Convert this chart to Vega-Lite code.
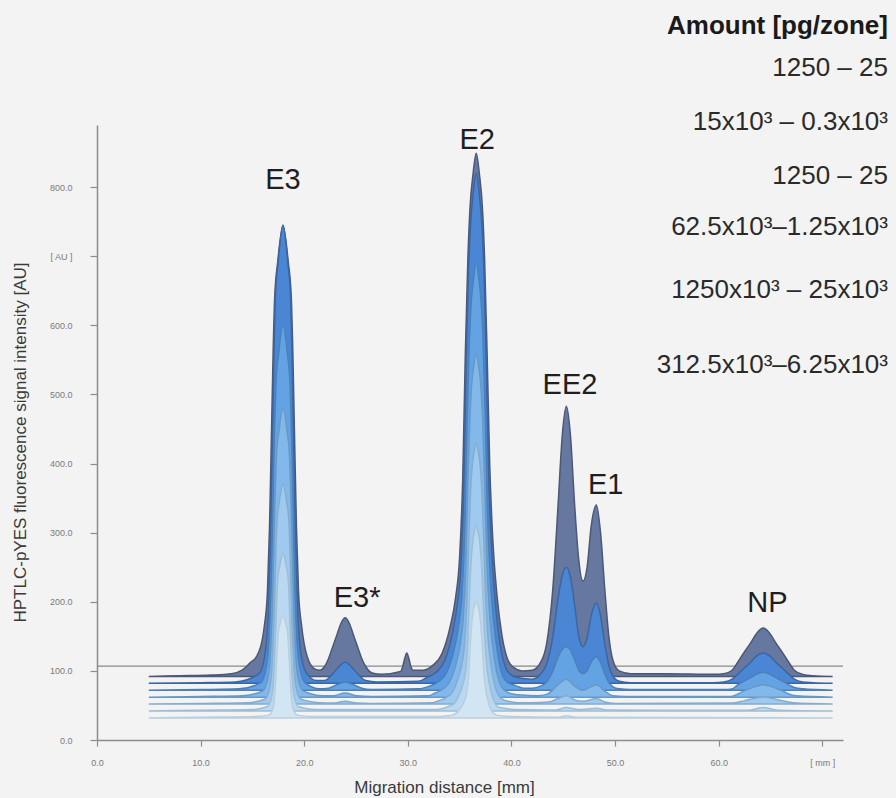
{
"$schema": "https://vega.github.io/schema/vega-lite/v6.json",
"width": 746, "height": 615,
"autosize": "none",
"padding": {"left": 97, "top": 125, "right": 53, "bottom": 58},
"background": "#f3f3f3",
"config": {"view": {"stroke": null}, "font": "Liberation Sans"},
"layer": [
{
"data": {"values": [{"y": 107}]},
"mark": {"type": "rule", "color": "#8a8a8a", "strokeWidth": 1.3},
"encoding": {"y": {"field": "y", "type": "quantitative", "scale": {"domain": [0, 890], "nice": false}}}
},
{
"data": {"values": [
{"s":"t1","x":5,"y":92},{"s":"t1","x":8,"y":93},{"s":"t1","x":11,"y":94},{"s":"t1","x":13,"y":96},{"s":"t1","x":14,"y":101},{"s":"t1","x":14.8,"y":112},{"s":"t1","x":15.45,"y":122},{"s":"t1","x":16.15,"y":165},{"s":"t1","x":16.45,"y":215},{"s":"t1","x":16.65,"y":308},{"s":"t1","x":16.85,"y":452},{"s":"t1","x":17,"y":562},{"s":"t1","x":17.15,"y":641},{"s":"t1","x":17.45,"y":693},{"s":"t1","x":17.95,"y":745},{"s":"t1","x":18.45,"y":693},{"s":"t1","x":18.75,"y":641},{"s":"t1","x":18.9,"y":562},{"s":"t1","x":19.05,"y":452},{"s":"t1","x":19.25,"y":308},{"s":"t1","x":19.45,"y":215},{"s":"t1","x":19.75,"y":165},{"s":"t1","x":20.3,"y":120},{"s":"t1","x":21,"y":103},{"s":"t1","x":21.5,"y":101},{"s":"t1","x":21.95,"y":106},{"s":"t1","x":22.35,"y":118},{"s":"t1","x":22.75,"y":135},{"s":"t1","x":23.15,"y":152},{"s":"t1","x":23.55,"y":169},{"s":"t1","x":23.95,"y":177},{"s":"t1","x":24.35,"y":169},{"s":"t1","x":24.75,"y":152},{"s":"t1","x":25.15,"y":135},{"s":"t1","x":25.55,"y":118},{"s":"t1","x":25.95,"y":106},{"s":"t1","x":26.55,"y":97},{"s":"t1","x":27.5,"y":95},{"s":"t1","x":29.3,"y":99},{"s":"t1","x":29.5,"y":106},{"s":"t1","x":29.7,"y":118},{"s":"t1","x":29.9,"y":126},{"s":"t1","x":30.1,"y":118},{"s":"t1","x":30.3,"y":106},{"s":"t1","x":30.5,"y":101},{"s":"t1","x":31.5,"y":101},{"s":"t1","x":32.4,"y":108},{"s":"t1","x":33.3,"y":125},{"s":"t1","x":34.1,"y":165},{"s":"t1","x":34.6,"y":205},{"s":"t1","x":35,"y":265},{"s":"t1","x":35.3,"y":380},{"s":"t1","x":35.55,"y":560},{"s":"t1","x":35.8,"y":700},{"s":"t1","x":36,"y":770},{"s":"t1","x":36.3,"y":820},{"s":"t1","x":36.6,"y":849},{"s":"t1","x":36.9,"y":820},{"s":"t1","x":37.2,"y":770},{"s":"t1","x":37.4,"y":700},{"s":"t1","x":37.65,"y":560},{"s":"t1","x":37.9,"y":400},{"s":"t1","x":38.2,"y":290},{"s":"t1","x":38.6,"y":210},{"s":"t1","x":39.1,"y":150},{"s":"t1","x":39.6,"y":118},{"s":"t1","x":40.2,"y":105},{"s":"t1","x":41,"y":100},{"s":"t1","x":42,"y":101},{"s":"t1","x":42.8,"y":112},{"s":"t1","x":43.4,"y":140},{"s":"t1","x":44,"y":220},{"s":"t1","x":44.5,"y":340},{"s":"t1","x":44.9,"y":440},{"s":"t1","x":45.3,"y":483},{"s":"t1","x":45.7,"y":440},{"s":"t1","x":46.1,"y":340},{"s":"t1","x":46.5,"y":260},{"s":"t1","x":46.9,"y":230},{"s":"t1","x":47.3,"y":250},{"s":"t1","x":47.7,"y":310},{"s":"t1","x":48.2,"y":340},{"s":"t1","x":48.6,"y":300},{"s":"t1","x":49,"y":220},{"s":"t1","x":49.4,"y":150},{"s":"t1","x":49.8,"y":115},{"s":"t1","x":50.4,"y":100},{"s":"t1","x":51.5,"y":96},{"s":"t1","x":55,"y":96},{"s":"t1","x":59.5,"y":95},{"s":"t1","x":60.5,"y":96},{"s":"t1","x":61.3,"y":101},{"s":"t1","x":61.9,"y":114},{"s":"t1","x":62.5,"y":128},{"s":"t1","x":63.1,"y":141},{"s":"t1","x":63.7,"y":155},{"s":"t1","x":64.3,"y":162},{"s":"t1","x":64.9,"y":155},{"s":"t1","x":65.5,"y":141},{"s":"t1","x":66.1,"y":128},{"s":"t1","x":66.7,"y":114},{"s":"t1","x":67.3,"y":101},{"s":"t1","x":68.1,"y":95},{"s":"t1","x":69.1,"y":93},{"s":"t1","x":71,"y":92},
{"s":"t2","x":5,"y":82},{"s":"t2","x":10,"y":83},{"s":"t2","x":13.35,"y":84},{"s":"t2","x":15.65,"y":96},{"s":"t2","x":16.2,"y":123},{"s":"t2","x":16.52,"y":182},{"s":"t2","x":16.75,"y":301},{"s":"t2","x":16.94,"y":447},{"s":"t2","x":17.08,"y":560},{"s":"t2","x":17.21,"y":639},{"s":"t2","x":17.49,"y":692},{"s":"t2","x":17.95,"y":745},{"s":"t2","x":18.41,"y":692},{"s":"t2","x":18.69,"y":639},{"s":"t2","x":18.82,"y":560},{"s":"t2","x":18.96,"y":447},{"s":"t2","x":19.15,"y":301},{"s":"t2","x":19.38,"y":182},{"s":"t2","x":19.7,"y":123},{"s":"t2","x":20.25,"y":96},{"s":"t2","x":21.2,"y":86},{"s":"t2","x":21.95,"y":86},{"s":"t2","x":22.75,"y":96},{"s":"t2","x":23.35,"y":106},{"s":"t2","x":23.95,"y":113},{"s":"t2","x":24.55,"y":106},{"s":"t2","x":25.15,"y":96},{"s":"t2","x":25.95,"y":86},{"s":"t2","x":27,"y":84},{"s":"t2","x":31,"y":85},{"s":"t2","x":31.9,"y":91},{"s":"t2","x":32.74,"y":98},{"s":"t2","x":33.56,"y":115},{"s":"t2","x":34.3,"y":154},{"s":"t2","x":34.76,"y":195},{"s":"t2","x":35.13,"y":254},{"s":"t2","x":35.4,"y":369},{"s":"t2","x":35.63,"y":548},{"s":"t2","x":35.86,"y":680},{"s":"t2","x":36.05,"y":745},{"s":"t2","x":36.32,"y":792},{"s":"t2","x":36.6,"y":820},{"s":"t2","x":36.88,"y":792},{"s":"t2","x":37.15,"y":745},{"s":"t2","x":37.34,"y":680},{"s":"t2","x":37.57,"y":548},{"s":"t2","x":37.8,"y":388},{"s":"t2","x":38.07,"y":279},{"s":"t2","x":38.44,"y":200},{"s":"t2","x":38.9,"y":139},{"s":"t2","x":39.36,"y":108},{"s":"t2","x":39.91,"y":95},{"s":"t2","x":40.65,"y":90},{"s":"t2","x":42,"y":88},{"s":"t2","x":42.8,"y":95},{"s":"t2","x":43.4,"y":110},{"s":"t2","x":44,"y":150},{"s":"t2","x":44.5,"y":205},{"s":"t2","x":44.9,"y":238},{"s":"t2","x":45.3,"y":250},{"s":"t2","x":45.7,"y":235},{"s":"t2","x":46.1,"y":195},{"s":"t2","x":46.5,"y":150},{"s":"t2","x":46.9,"y":135},{"s":"t2","x":47.3,"y":148},{"s":"t2","x":47.7,"y":180},{"s":"t2","x":48.2,"y":198},{"s":"t2","x":48.6,"y":180},{"s":"t2","x":49,"y":140},{"s":"t2","x":49.4,"y":108},{"s":"t2","x":49.8,"y":92},{"s":"t2","x":50.4,"y":85},{"s":"t2","x":51.5,"y":83},{"s":"t2","x":59.5,"y":83},{"s":"t2","x":60.5,"y":84},{"s":"t2","x":61.3,"y":88},{"s":"t2","x":61.9,"y":96},{"s":"t2","x":62.5,"y":104.5},{"s":"t2","x":63.1,"y":113},{"s":"t2","x":63.7,"y":122},{"s":"t2","x":64.3,"y":126},{"s":"t2","x":64.9,"y":122},{"s":"t2","x":65.5,"y":113},{"s":"t2","x":66.1,"y":104.5},{"s":"t2","x":66.7,"y":96},{"s":"t2","x":67.3,"y":88},{"s":"t2","x":68.1,"y":84},{"s":"t2","x":69.1,"y":83},{"s":"t2","x":71,"y":82},
{"s":"t3","x":5,"y":72},{"s":"t3","x":10,"y":73},{"s":"t3","x":13.7,"y":74},{"s":"t3","x":15.82,"y":83},{"s":"t3","x":16.33,"y":105},{"s":"t3","x":16.63,"y":152},{"s":"t3","x":16.85,"y":247},{"s":"t3","x":17.01,"y":363},{"s":"t3","x":17.14,"y":453},{"s":"t3","x":17.27,"y":516},{"s":"t3","x":17.52,"y":558},{"s":"t3","x":17.95,"y":600},{"s":"t3","x":18.38,"y":558},{"s":"t3","x":18.63,"y":516},{"s":"t3","x":18.76,"y":453},{"s":"t3","x":18.89,"y":363},{"s":"t3","x":19.05,"y":247},{"s":"t3","x":19.27,"y":152},{"s":"t3","x":19.57,"y":105},{"s":"t3","x":20.08,"y":83},{"s":"t3","x":21.5,"y":74},{"s":"t3","x":22.35,"y":75},{"s":"t3","x":23.15,"y":80},{"s":"t3","x":23.95,"y":84},{"s":"t3","x":24.75,"y":80},{"s":"t3","x":25.55,"y":75},{"s":"t3","x":26.5,"y":73},{"s":"t3","x":31,"y":74},{"s":"t3","x":32.26,"y":79},{"s":"t3","x":33.03,"y":85},{"s":"t3","x":33.79,"y":99},{"s":"t3","x":34.47,"y":131},{"s":"t3","x":34.9,"y":165},{"s":"t3","x":35.24,"y":214},{"s":"t3","x":35.5,"y":307},{"s":"t3","x":35.71,"y":455},{"s":"t3","x":35.92,"y":569},{"s":"t3","x":36.09,"y":626},{"s":"t3","x":36.34,"y":667},{"s":"t3","x":36.6,"y":690},{"s":"t3","x":36.86,"y":667},{"s":"t3","x":37.11,"y":626},{"s":"t3","x":37.28,"y":569},{"s":"t3","x":37.49,"y":455},{"s":"t3","x":37.7,"y":323},{"s":"t3","x":37.96,"y":233},{"s":"t3","x":38.3,"y":169},{"s":"t3","x":38.73,"y":120},{"s":"t3","x":39.15,"y":93},{"s":"t3","x":39.66,"y":83},{"s":"t3","x":40.34,"y":79},{"s":"t3","x":41.2,"y":75},{"s":"t3","x":42,"y":75},{"s":"t3","x":42.8,"y":78},{"s":"t3","x":43.4,"y":84},{"s":"t3","x":44,"y":100},{"s":"t3","x":44.5,"y":120},{"s":"t3","x":44.9,"y":131},{"s":"t3","x":45.3,"y":135},{"s":"t3","x":45.7,"y":130},{"s":"t3","x":46.1,"y":116},{"s":"t3","x":46.5,"y":101},{"s":"t3","x":46.9,"y":96},{"s":"t3","x":47.3,"y":100},{"s":"t3","x":47.7,"y":113},{"s":"t3","x":48.2,"y":120},{"s":"t3","x":48.6,"y":112},{"s":"t3","x":49,"y":96},{"s":"t3","x":49.4,"y":83},{"s":"t3","x":49.8,"y":77},{"s":"t3","x":50.4,"y":74},{"s":"t3","x":51.5,"y":73},{"s":"t3","x":60.5,"y":73},{"s":"t3","x":61.3,"y":74},{"s":"t3","x":61.9,"y":80.5},{"s":"t3","x":62.5,"y":85.5},{"s":"t3","x":63.1,"y":90.5},{"s":"t3","x":63.7,"y":95.5},{"s":"t3","x":64.3,"y":98},{"s":"t3","x":64.9,"y":95.5},{"s":"t3","x":65.5,"y":90.5},{"s":"t3","x":66.1,"y":85.5},{"s":"t3","x":66.7,"y":80.5},{"s":"t3","x":67.3,"y":76},{"s":"t3","x":68.1,"y":74},{"s":"t3","x":71,"y":72},
{"s":"t4","x":5,"y":62},{"s":"t4","x":10,"y":63},{"s":"t4","x":14.05,"y":64},{"s":"t4","x":16,"y":71},{"s":"t4","x":16.47,"y":88},{"s":"t4","x":16.74,"y":126},{"s":"t4","x":16.94,"y":201},{"s":"t4","x":17.09,"y":292},{"s":"t4","x":17.21,"y":363},{"s":"t4","x":17.33,"y":414},{"s":"t4","x":17.56,"y":447},{"s":"t4","x":17.95,"y":480},{"s":"t4","x":18.34,"y":447},{"s":"t4","x":18.57,"y":414},{"s":"t4","x":18.69,"y":363},{"s":"t4","x":18.81,"y":292},{"s":"t4","x":18.96,"y":201},{"s":"t4","x":19.16,"y":126},{"s":"t4","x":19.43,"y":88},{"s":"t4","x":19.9,"y":71},{"s":"t4","x":21.85,"y":64},{"s":"t4","x":22.8,"y":64},{"s":"t4","x":23.95,"y":68},{"s":"t4","x":25.1,"y":64},{"s":"t4","x":26.5,"y":63},{"s":"t4","x":32,"y":64},{"s":"t4","x":32.62,"y":68},{"s":"t4","x":33.32,"y":73},{"s":"t4","x":34.03,"y":84},{"s":"t4","x":34.65,"y":110},{"s":"t4","x":35.04,"y":137},{"s":"t4","x":35.35,"y":177},{"s":"t4","x":35.59,"y":252},{"s":"t4","x":35.78,"y":370},{"s":"t4","x":35.98,"y":462},{"s":"t4","x":36.13,"y":508},{"s":"t4","x":36.37,"y":541},{"s":"t4","x":36.6,"y":560},{"s":"t4","x":36.83,"y":541},{"s":"t4","x":37.07,"y":508},{"s":"t4","x":37.22,"y":462},{"s":"t4","x":37.42,"y":370},{"s":"t4","x":37.61,"y":265},{"s":"t4","x":37.85,"y":192},{"s":"t4","x":38.16,"y":140},{"s":"t4","x":38.55,"y":100},{"s":"t4","x":38.94,"y":80},{"s":"t4","x":39.41,"y":71},{"s":"t4","x":40.03,"y":67},{"s":"t4","x":41,"y":65},{"s":"t4","x":42.5,"y":64},{"s":"t4","x":43.4,"y":66},{"s":"t4","x":44.5,"y":80},{"s":"t4","x":45.3,"y":88},{"s":"t4","x":46.1,"y":78},{"s":"t4","x":46.9,"y":72},{"s":"t4","x":48.2,"y":80},{"s":"t4","x":49,"y":71},{"s":"t4","x":49.8,"y":64},{"s":"t4","x":51,"y":63},{"s":"t4","x":61.2,"y":63},{"s":"t4","x":61.9,"y":67},{"s":"t4","x":62.5,"y":71.5},{"s":"t4","x":63.1,"y":75},{"s":"t4","x":63.7,"y":78},{"s":"t4","x":64.3,"y":80},{"s":"t4","x":64.9,"y":78},{"s":"t4","x":65.5,"y":75},{"s":"t4","x":66.1,"y":71.5},{"s":"t4","x":66.7,"y":67},{"s":"t4","x":67.5,"y":64},{"s":"t4","x":71,"y":62},
{"s":"t5","x":5,"y":52},{"s":"t5","x":10,"y":53},{"s":"t5","x":14.45,"y":54},{"s":"t5","x":16.2,"y":59},{"s":"t5","x":16.62,"y":72},{"s":"t5","x":16.86,"y":101},{"s":"t5","x":17.04,"y":158},{"s":"t5","x":17.18,"y":227},{"s":"t5","x":17.28,"y":282},{"s":"t5","x":17.39,"y":319},{"s":"t5","x":17.6,"y":345},{"s":"t5","x":17.95,"y":370},{"s":"t5","x":18.3,"y":345},{"s":"t5","x":18.51,"y":319},{"s":"t5","x":18.62,"y":282},{"s":"t5","x":18.72,"y":227},{"s":"t5","x":18.86,"y":158},{"s":"t5","x":19.04,"y":101},{"s":"t5","x":19.28,"y":72},{"s":"t5","x":19.7,"y":59},{"s":"t5","x":21.45,"y":54},{"s":"t5","x":22.8,"y":53.5},{"s":"t5","x":23.95,"y":56},{"s":"t5","x":25.1,"y":53.5},{"s":"t5","x":26.5,"y":53},{"s":"t5","x":32.4,"y":54},{"s":"t5","x":33.03,"y":57},{"s":"t5","x":33.66,"y":61},{"s":"t5","x":34.29,"y":69},{"s":"t5","x":34.85,"y":89},{"s":"t5","x":35.2,"y":109},{"s":"t5","x":35.48,"y":139},{"s":"t5","x":35.69,"y":196},{"s":"t5","x":35.87,"y":286},{"s":"t5","x":36.04,"y":356},{"s":"t5","x":36.18,"y":391},{"s":"t5","x":36.39,"y":416},{"s":"t5","x":36.6,"y":430},{"s":"t5","x":36.81,"y":416},{"s":"t5","x":37.02,"y":391},{"s":"t5","x":37.16,"y":356},{"s":"t5","x":37.34,"y":286},{"s":"t5","x":37.51,"y":206},{"s":"t5","x":37.72,"y":151},{"s":"t5","x":38,"y":111},{"s":"t5","x":38.35,"y":82},{"s":"t5","x":38.7,"y":66},{"s":"t5","x":39.12,"y":59},{"s":"t5","x":39.68,"y":56},{"s":"t5","x":40.6,"y":54},{"s":"t5","x":42,"y":54},{"s":"t5","x":43.6,"y":55},{"s":"t5","x":44.5,"y":60},{"s":"t5","x":45.3,"y":64},{"s":"t5","x":46.1,"y":58},{"s":"t5","x":46.9,"y":56},{"s":"t5","x":48.2,"y":60},{"s":"t5","x":49,"y":55},{"s":"t5","x":50,"y":53},{"s":"t5","x":61.4,"y":53.5},{"s":"t5","x":62.5,"y":57},{"s":"t5","x":63.4,"y":60},{"s":"t5","x":64.3,"y":62},{"s":"t5","x":65.2,"y":60},{"s":"t5","x":66.1,"y":57},{"s":"t5","x":67.2,"y":54},{"s":"t5","x":71,"y":52},
{"s":"t6","x":5,"y":42},{"s":"t6","x":10,"y":43},{"s":"t6","x":14.85,"y":44},{"s":"t6","x":16.4,"y":48},{"s":"t6","x":16.77,"y":57},{"s":"t6","x":16.99,"y":77},{"s":"t6","x":17.14,"y":118},{"s":"t6","x":17.27,"y":168},{"s":"t6","x":17.36,"y":207},{"s":"t6","x":17.45,"y":234},{"s":"t6","x":17.64,"y":252},{"s":"t6","x":17.95,"y":270},{"s":"t6","x":18.26,"y":252},{"s":"t6","x":18.45,"y":234},{"s":"t6","x":18.54,"y":207},{"s":"t6","x":18.63,"y":168},{"s":"t6","x":18.76,"y":118},{"s":"t6","x":18.91,"y":77},{"s":"t6","x":19.13,"y":57},{"s":"t6","x":19.5,"y":48},{"s":"t6","x":21.05,"y":44},{"s":"t6","x":32.8,"y":44},{"s":"t6","x":33.44,"y":46},{"s":"t6","x":34,"y":49},{"s":"t6","x":34.55,"y":54},{"s":"t6","x":35.05,"y":69},{"s":"t6","x":35.36,"y":83},{"s":"t6","x":35.61,"y":104},{"s":"t6","x":35.79,"y":144},{"s":"t6","x":35.95,"y":208},{"s":"t6","x":36.1,"y":257},{"s":"t6","x":36.23,"y":282},{"s":"t6","x":36.41,"y":300},{"s":"t6","x":36.6,"y":310},{"s":"t6","x":36.79,"y":300},{"s":"t6","x":36.97,"y":282},{"s":"t6","x":37.1,"y":257},{"s":"t6","x":37.25,"y":208},{"s":"t6","x":37.41,"y":152},{"s":"t6","x":37.59,"y":112},{"s":"t6","x":37.84,"y":84},{"s":"t6","x":38.15,"y":63},{"s":"t6","x":38.46,"y":52},{"s":"t6","x":38.83,"y":47},{"s":"t6","x":39.33,"y":46},{"s":"t6","x":40.3,"y":44},{"s":"t6","x":44.3,"y":43.5},{"s":"t6","x":45.3,"y":47},{"s":"t6","x":46.5,"y":44},{"s":"t6","x":48.2,"y":46},{"s":"t6","x":49.2,"y":43.5},{"s":"t6","x":62.8,"y":43},{"s":"t6","x":64.3,"y":47},{"s":"t6","x":65.8,"y":43},{"s":"t6","x":71,"y":42},
{"s":"t7","x":5,"y":32},{"s":"t7","x":10,"y":33},{"s":"t7","x":15.2,"y":34},{"s":"t7","x":16.57,"y":36},{"s":"t7","x":16.9,"y":42},{"s":"t7","x":17.1,"y":55},{"s":"t7","x":17.23,"y":81},{"s":"t7","x":17.34,"y":114},{"s":"t7","x":17.43,"y":139},{"s":"t7","x":17.51,"y":157},{"s":"t7","x":17.67,"y":168},{"s":"t7","x":17.95,"y":180},{"s":"t7","x":18.23,"y":168},{"s":"t7","x":18.39,"y":157},{"s":"t7","x":18.47,"y":139},{"s":"t7","x":18.56,"y":114},{"s":"t7","x":18.67,"y":81},{"s":"t7","x":18.8,"y":55},{"s":"t7","x":19,"y":42},{"s":"t7","x":19.33,"y":36},{"s":"t7","x":20.7,"y":34},{"s":"t7","x":33.2,"y":34},{"s":"t7","x":33.8,"y":35},{"s":"t7","x":34.29,"y":36},{"s":"t7","x":34.78,"y":40},{"s":"t7","x":35.22,"y":49},{"s":"t7","x":35.5,"y":58},{"s":"t7","x":35.72,"y":71},{"s":"t7","x":35.88,"y":96},{"s":"t7","x":36.02,"y":136},{"s":"t7","x":36.16,"y":167},{"s":"t7","x":36.27,"y":183},{"s":"t7","x":36.43,"y":194},{"s":"t7","x":36.6,"y":200},{"s":"t7","x":36.77,"y":194},{"s":"t7","x":36.93,"y":183},{"s":"t7","x":37.04,"y":167},{"s":"t7","x":37.18,"y":136},{"s":"t7","x":37.32,"y":101},{"s":"t7","x":37.48,"y":77},{"s":"t7","x":37.7,"y":59},{"s":"t7","x":37.98,"y":45},{"s":"t7","x":38.25,"y":39},{"s":"t7","x":38.58,"y":36},{"s":"t7","x":39.02,"y":35},{"s":"t7","x":40,"y":34},{"s":"t7","x":44.5,"y":33},{"s":"t7","x":45.3,"y":35},{"s":"t7","x":46.2,"y":33},{"s":"t7","x":71,"y":32}
]},
"transform": [{"joinaggregate": [{"op": "min", "field": "y", "as": "base"}], "groupby": ["s"]}],
"mark": {"type": "area", "interpolate": "monotone", "strokeWidth": 1.5, "opacity": 1, "fillOpacity": 1},
"encoding": {
"x": {"field": "x", "type": "quantitative", "scale": {"domain": [0, 72], "nice": false},
"axis": {"title": "Migration distance [mm]", "values": [0,10,20,30,40,50,60,70], "labelExpr": "datum.value == 70 ? '[ mm ]' : format(datum.value, '.1f')", "grid": false, "labelFlush": false, "domainColor": "#8c8c8c", "domainWidth": 1.5, "tickColor": "#8c8c8c", "tickSize": 6, "tickWidth": 1.2, "labelFontSize": 9, "labelColor": "#7a7a7a", "labelPadding": 12, "titleFontSize": 17, "titleFontWeight": "normal", "titleColor": "#3a3a3a", "titleX": 347, "titleY": 47, "titleBaseline": "middle"}},
"y": {"field": "y", "type": "quantitative", "stack": null, "scale": {"domain": [0, 890], "nice": false},
"axis": {"title": "HPTLC-pYES fluorescence signal intensity [AU]", "values": [0,100,200,300,400,500,600,700,800], "labelExpr": "datum.value == 700 ? '[ AU ]' : format(datum.value, '.1f')", "grid": false, "labelFlush": false, "domainColor": "#8c8c8c", "domainWidth": 1.5, "tickColor": "#8c8c8c", "tickSize": 7, "tickWidth": 1.2, "labelFontSize": 9, "labelColor": "#7a7a7a", "labelPadding": 18, "titleFontSize": 17, "titleFontWeight": "normal", "titleColor": "#3a3a3a", "titleX": -77, "titleY": 317, "titleBaseline": "middle"}},
"y2": {"field": "base"},
"fill": {"field": "s", "type": "nominal", "legend": null, "scale": {"domain": ["t1","t2","t3","t4","t5","t6","t7"], "range": ["#66789f","#4a86d3","#64a3e3","#82b8ea","#9fc9ee","#bad8f1","#d1e5f3"]}},
"stroke": {"field": "s", "type": "nominal", "legend": null, "scale": {"domain": ["t1","t2","t3","t4","t5","t6","t7"], "range": ["#4b5876","#3a66a2","#4c80b9","#6898c6","#84acce","#9fbdd4","#bbcedb"]}}
}
},
{
"data": {"values": [
{"label": "E3", "x": 17.95, "y": 810},
{"label": "E2", "x": 36.7, "y": 868},
{"label": "E3*", "x": 25.1, "y": 205},
{"label": "EE2", "x": 45.65, "y": 514},
{"label": "E1", "x": 49.1, "y": 369},
{"label": "NP", "x": 64.7, "y": 198}
]},
"mark": {"type": "text", "fontSize": 29, "color": "#1e1e1e", "baseline": "middle", "align": "center"},
"encoding": {
"x": {"field": "x", "type": "quantitative", "scale": {"domain": [0, 72], "nice": false}},
"y": {"field": "y", "type": "quantitative", "scale": {"domain": [0, 890], "nice": false}},
"text": {"field": "label"}
}
},
{
"data": {"values": [{"label": "Amount [pg/zone]", "x": 76.34, "y": 1033}]},
"mark": {"type": "text", "fontSize": 26, "fontWeight": "bold", "color": "#1a1a1a", "baseline": "middle", "align": "right"},
"encoding": {
"x": {"field": "x", "type": "quantitative", "scale": {"domain": [0, 72], "nice": false}},
"y": {"field": "y", "type": "quantitative", "scale": {"domain": [0, 890], "nice": false}},
"text": {"field": "label"}
}
},
{
"data": {"values": [
{"label": "1250 – 25", "x": 76.34, "y": 972},
{"label": "15x10³ – 0.3x10³", "x": 76.34, "y": 894},
{"label": "1250 – 25", "x": 76.34, "y": 816},
{"label": "62.5x10³–1.25x10³", "x": 76.34, "y": 742},
{"label": "1250x10³ – 25x10³", "x": 76.34, "y": 651},
{"label": "312.5x10³–6.25x10³", "x": 76.34, "y": 543}
]},
"mark": {"type": "text", "fontSize": 26, "color": "#2a2a2a", "baseline": "middle", "align": "right"},
"encoding": {
"x": {"field": "x", "type": "quantitative", "scale": {"domain": [0, 72], "nice": false}},
"y": {"field": "y", "type": "quantitative", "scale": {"domain": [0, 890], "nice": false}},
"text": {"field": "label"}
}
}
]
}
